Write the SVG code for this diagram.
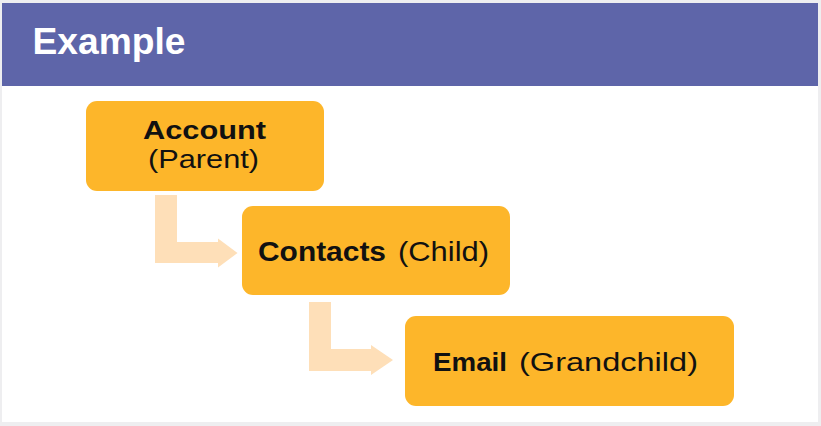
<svg xmlns="http://www.w3.org/2000/svg" width="821" height="426" viewBox="0 0 821 426">
  <style>
    .node rect { fill: #fdb62a; }
    .arrow { fill: #fedfb8; }
    .lbl { font-family: "Liberation Sans", Arial, sans-serif; font-size: 26px; fill: #111; }
    .big { font-size: 28px; }
    .b { font-weight: bold; }
    .title { font-family: "Liberation Sans", Arial, sans-serif; font-size: 36px; font-weight: bold; fill: #ffffff; }
  </style>

  <!-- page frame -->
  <rect x="0" y="0" width="821" height="426" fill="#eeeef0"/>
  <rect x="2" y="86" width="816" height="336" fill="#ffffff"/>

  <!-- title band -->
  <g id="header">
    <rect x="2" y="3" width="816" height="83" fill="#5e65a9"/>
    <text class="title" x="32.5" y="54" textLength="153" lengthAdjust="spacingAndGlyphs">Example</text>
  </g>

  <!-- elbow connectors -->
  <g id="connectors">
    <polygon class="arrow" points="155,195 177,195 177,242 218,242 218,238.5 237.5,253 218,267.5 218,263 155,263"/>
    <polygon class="arrow" points="309,302 331,302 331,349 371,349 371,345 393,360 371,375 371,371 309,371"/>
  </g>

  <g id="account" class="node">
    <rect x="86" y="101" width="238" height="90" rx="11"/>
    <text class="lbl b" x="143" y="138.5" textLength="123" lengthAdjust="spacingAndGlyphs">Account</text>
    <text class="lbl" x="148" y="168" textLength="111" lengthAdjust="spacingAndGlyphs">(Parent)</text>
  </g>

  <g id="contacts" class="node">
    <rect x="242" y="206" width="268" height="89" rx="11"/>
    <text class="lbl big b" x="258" y="261" textLength="128" lengthAdjust="spacingAndGlyphs">Contacts</text>
    <text class="lbl big" x="398" y="261" textLength="91" lengthAdjust="spacingAndGlyphs">(Child)</text>
  </g>

  <g id="email" class="node">
    <rect x="405" y="316" width="329" height="90" rx="11"/>
    <text class="lbl b" x="433" y="370.5" textLength="74" lengthAdjust="spacingAndGlyphs">Email</text>
    <text class="lbl" x="519" y="370.5" textLength="179" lengthAdjust="spacingAndGlyphs">(Grandchild)</text>
  </g>
</svg>
